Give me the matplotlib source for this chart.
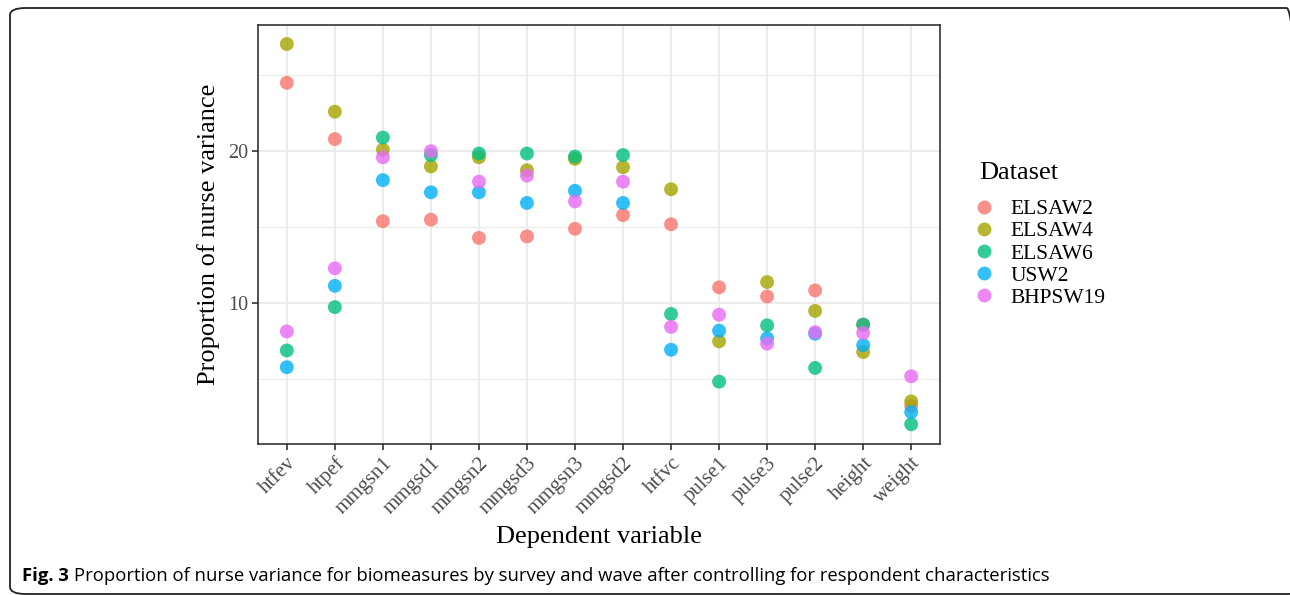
import matplotlib
matplotlib.use("Agg")
import matplotlib.pyplot as plt
from matplotlib.patches import FancyBboxPatch
from matplotlib.lines import Line2D
import numpy as np

categories = ["htfev", "htpef", "mmgsn1", "mmgsd1", "mmgsn2", "mmgsd3", "mmgsn3",
              "mmgsd2", "htfvc", "pulse1", "pulse3", "pulse2", "height", "weight"]
datasets = ["ELSAW2", "ELSAW4", "ELSAW6", "USW2", "BHPSW19"]
colors = ["#F8766D", "#A3A500", "#00BF7D", "#00B0F6", "#E76BF3"]

elsaw2 = [24.5, 20.8, 15.4, 15.5, 14.3, 14.4, 14.9, 15.8, 15.2, 11.05, 10.45, 10.85, 8.6, 3.25]
elsaw4 = [27.05, 22.6, 20.1, 19.0, 19.6, 18.75, 19.5, 18.95, 17.5, 7.5, 11.4, 9.5, 6.8, 3.55]
elsaw6 = [6.9, 9.75, 20.9, 19.75, 19.85, 19.85, 19.65, 19.75, 9.3, 4.85, 8.55, 5.75, 8.6, 2.05]
usw2 = [5.8, 11.15, 18.1, 17.3, 17.3, 16.6, 17.4, 16.6, 6.95, 8.2, 7.7, 8.0, 7.25, 2.85]
bhpsw19 = [8.15, 12.3, 19.6, 20.0, 18.0, 18.4, 16.7, 18.0, 8.45, 9.25, 7.35, 8.1, 8.05, 5.2]
series = [elsaw2, elsaw4, elsaw6, usw2, bhpsw19]

serif = ["Liberation Serif", "DejaVu Serif"]

fig = plt.figure(figsize=(12.9, 5.95), dpi=100)
ax = fig.add_axes([258 / 1290, 1 - 444 / 595, (940 - 258) / 1290, (444 - 25) / 595])

x = np.arange(len(categories))
for name, vals, c in zip(datasets, series, colors):
    ax.scatter(x, vals, s=100, color=c, alpha=0.8, edgecolors="none", zorder=3, label=name)

ax.set_xlim(-0.6, len(categories) - 1 + 0.6)
ax.set_ylim(0.75, 28.3)
ax.set_yticks([10, 20])
ax.set_yticks([5, 15, 25], minor=True)
ax.set_xticks(x)
ax.set_xticklabels(categories, rotation=45, ha="right", rotation_mode="anchor",
                   family=serif, fontsize=15, color="#4D4D4D")
for lbl in ax.get_yticklabels():
    lbl.set_family(serif)
    lbl.set_fontsize(14.5)
    lbl.set_color("#4D4D4D")
ax.grid(True, which="major", color="#EBEBEB", linewidth=1.4, zorder=0)
ax.grid(True, which="minor", axis="y", color="#EBEBEB", linewidth=0.8, zorder=0)
ax.set_axisbelow(True)
ax.tick_params(axis="both", which="major", length=4, width=1.2, color="#333333", pad=3)
ax.tick_params(axis="y", which="minor", length=0)
for sp in ax.spines.values():
    sp.set_color("#333333")
    sp.set_linewidth(1.2)

ax.set_xlabel("Dependent variable", family=serif, fontsize=19, labelpad=6)
ax.set_ylabel("Proportion of nurse variance", family=serif, fontsize=19, labelpad=6)

# Legend title and entries
fig.text(979 / 1290, 1 - 173 / 595, "Dataset", family=serif, fontsize=19,
         ha="left", va="center")
handles = [Line2D([], [], marker="o", linestyle="none", markersize=10, markerfacecolor=c,
                  markeredgecolor="none", alpha=0.8) for c in colors]
leg = fig.legend(handles, datasets, loc="upper left", bbox_to_anchor=(972 / 1290, 1 - 199 / 595),
                 frameon=False, prop={"family": serif, "size": 15.5},
                 handletextpad=0.7, labelspacing=0.1, borderaxespad=0, handlelength=1.1,
                 borderpad=0)

# Outer rounded border
box = FancyBboxPatch((10 / 1290, 1 - 594 / 595), (1302 - 10) / 1290, (594 - 8) / 595,
                     boxstyle="round,pad=0,rounding_size=0.012", transform=fig.transFigure,
                     facecolor="none", edgecolor="#222222", linewidth=1.3, clip_on=False)
fig.patches.append(box)

# Caption
t1 = fig.text(22 / 1290, 1 - 576 / 595, "Fig. 3", family="Open Sans", fontweight="bold",
              fontsize=13.3, va="center", ha="left")
fig.canvas.draw()
bb = t1.get_window_extent()
fig.text((bb.x1 + 5) / 1290, 1 - 576 / 595,
         "Proportion of nurse variance for biomeasures by survey and wave after controlling for respondent characteristics",
         family="Open Sans", fontsize=13.3, va="center", ha="left")

fig.savefig("out.png", dpi=100)
